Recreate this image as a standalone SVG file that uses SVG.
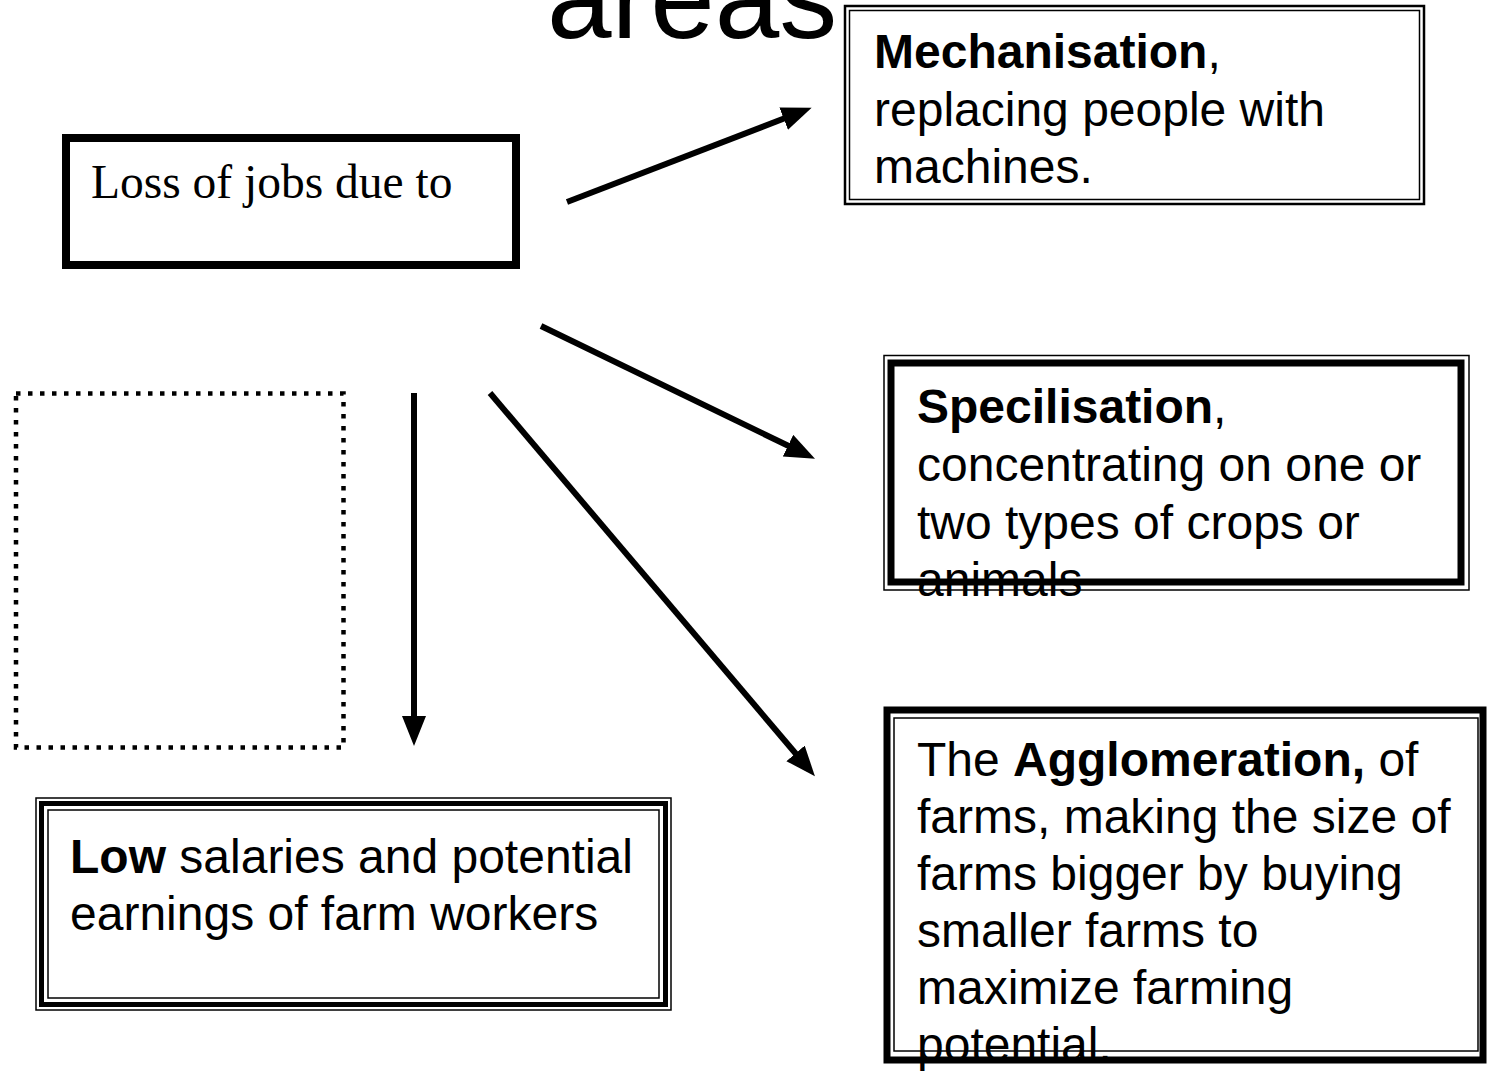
<svg xmlns="http://www.w3.org/2000/svg" width="1487" height="1072" viewBox="0 0 1487 1072">
<style>
  .sans { font-family: "Liberation Sans", Arial, sans-serif; font-size: 48px; fill: #000; }
  .serif { font-family: "Liberation Serif", "Times New Roman", serif; font-size: 47.5px; fill: #000; }
  .b { font-weight: bold; }
  .box { fill: none; stroke: #000; }
  .conn { stroke: #000; stroke-width: 6; fill: none; }
</style>
<defs>
  <marker id="ah" markerUnits="userSpaceOnUse" markerWidth="32" markerHeight="26" refX="10" refY="12" orient="auto">
    <path d="M0,0 L30,12 L0,24 z" fill="#000"/>
  </marker>
</defs>
<rect width="1487" height="1072" fill="#fff"/>

<text class="sans" x="547" y="38" style="font-size:116px">areas</text>

<g id="loss">
  <rect class="box" x="66" y="138" width="450" height="127" stroke-width="8" fill="#fff"/>
  <text class="serif" x="91" y="198">Loss of jobs due to</text>
</g>

<g id="mechanisation">
  <rect x="845" y="6" width="579" height="198" fill="#fff" class="box" stroke-width="2.5"/>
  <rect class="box" x="849.5" y="10.5" width="570" height="189" stroke-width="1.5"/>
  <text class="sans" x="874" y="68"><tspan class="b">Mechanisation</tspan>,</text>
  <text class="sans" x="874" y="126">replacing people with</text>
  <text class="sans" x="874" y="183">machines.</text>
</g>

<g id="specialisation">
  <rect x="884" y="355.5" width="585" height="234.5" fill="#fff" class="box" stroke-width="1.5"/>
  <rect class="box" x="891" y="363" width="570" height="219" stroke-width="7"/>
  <text class="sans" x="917" y="423"><tspan class="b">Specilisation</tspan>,</text>
  <text class="sans" x="917" y="481">concentrating on one or</text>
  <text class="sans" x="917" y="539">two types of crops or</text>
  <text class="sans" x="917" y="596">animals</text>
</g>

<g id="agglomeration">
  <rect x="887" y="710" width="596" height="350" fill="#fff" class="box" stroke-width="7"/>
  <rect class="box" x="894" y="718" width="584" height="333" stroke-width="1.5"/>
  <text class="sans" x="917" y="776">The <tspan class="b">Agglomeration,</tspan> of</text>
  <text class="sans" x="917" y="833">farms, making the size of</text>
  <text class="sans" x="917" y="890">farms bigger by buying</text>
  <text class="sans" x="917" y="947">smaller farms to</text>
  <text class="sans" x="917" y="1004">maximize farming</text>
  <text class="sans" x="917" y="1061">potential.</text>
</g>

<g id="low">
  <rect x="36" y="798" width="635" height="212" fill="#fff" class="box" stroke-width="1.5"/>
  <rect class="box" x="41.5" y="803.5" width="624" height="201" stroke-width="5"/>
  <rect class="box" x="48" y="810" width="611" height="188" stroke-width="1.5"/>
  <text class="sans" x="70" y="873"><tspan class="b">Low</tspan> salaries and potential</text>
  <text class="sans" x="70" y="930">earnings of farm workers</text>
</g>

<g id="blank">
  <rect class="box" x="16" y="393.5" width="327.5" height="354" stroke-width="4.5" stroke-dasharray="4.5 7.5"/>
</g>

<g id="connectors">
  <line class="conn" x1="567" y1="202" x2="793" y2="115" marker-end="url(#ah)"/>
  <line class="conn" x1="541" y1="326" x2="797" y2="450" marker-end="url(#ah)"/>
  <line class="conn" x1="490" y1="393" x2="802" y2="761" marker-end="url(#ah)"/>
  <line class="conn" x1="414" y1="393" x2="414" y2="726" marker-end="url(#ah)"/>
</g>
</svg>
